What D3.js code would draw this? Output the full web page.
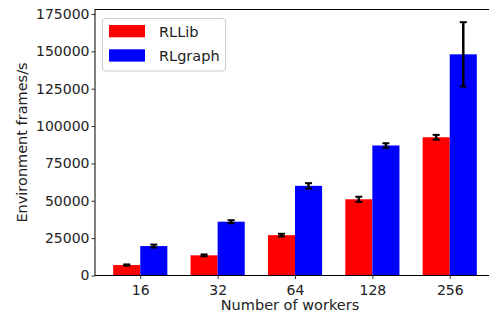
<!DOCTYPE html>
<html>
<head>
<meta charset="utf-8">
<script src="https://cdn.jsdelivr.net/npm/d3@7"></script>
<style>
  body { margin: 0; background: #fff; }
  svg text { font-family: "DejaVu Sans", sans-serif; fill: #222; }
</style>
</head>
<body>
<div id="chart"></div>
<script>
// data
var workers = ["16", "32", "64", "128", "256"];
var rllib = [7000, 13500, 27000, 51000, 92500];
var rllibErr = [400, 600, 900, 1700, 1600];
var rlgraph = [19700, 36000, 60000, 87000, 148000];
var rlgraphErr = [1000, 1000, 1800, 1500, 21500];
var yTicks = [0, 25000, 50000, 75000, 100000, 125000, 150000, 175000];

var W = 489, H = 316;
// note: "top" is taken by window.top, so use other names
var plotL = 95, plotR = 495, plotT = 9.5, plotB = 275.5;
var barW = 0.35;

var svg = d3.select("#chart").append("svg")
    .attr("width", W)
    .attr("height", H);

var x = d3.scaleLinear()
    .domain([-0.585, 4.585])
    .range([plotL, plotR]);

var y = d3.scaleLinear()
    .domain([0, 178000])
    .range([plotB, plotT]);

var series = [
  {name: "RLLib", vals: rllib, err: rllibErr, color: "#ff0000", off: -barW},
  {name: "RLgraph", vals: rlgraph, err: rlgraphErr, color: "#0000ff", off: 0}
];

// bars
series.forEach(function(s) {
  svg.append("g").selectAll("rect")
    .data(s.vals)
    .enter().append("rect")
    .attr("x", function(d, i) { return x(i + s.off); })
    .attr("width", function(d, i) { return x(i + s.off + barW) - x(i + s.off); })
    .attr("y", function(d) { return y(d); })
    .attr("height", function(d) { return y(0) - y(d); })
    .attr("fill", s.color);
});

// error bars
series.forEach(function(s) {
  var g = svg.append("g");
  s.vals.forEach(function(v, i) {
    var cx = x(i + s.off + barW / 2);
    g.append("line")
      .attr("x1", cx).attr("x2", cx)
      .attr("y1", y(v - s.err[i])).attr("y2", y(v + s.err[i]))
      .attr("stroke", "#000").attr("stroke-width", 2.5);
    [v - s.err[i], v + s.err[i]].forEach(function(e) {
      g.append("line")
        .attr("x1", cx - 3.5).attr("x2", cx + 3.5)
        .attr("y1", y(e)).attr("y2", y(e))
        .attr("stroke", "#000").attr("stroke-width", 2);
    });
  });
});

// axes
var xAxis = svg.append("g")
  .attr("transform", "translate(0," + plotB + ")")
  .call(d3.axisBottom(x).tickValues(d3.range(workers.length))
      .tickFormat(function(d) { return workers[d]; })
      .tickSize(3.5).tickSizeOuter(0));
xAxis.select(".domain").remove();
xAxis.selectAll("text").attr("font-size", 14).attr("dy", "0.95em");

var yAxis = svg.append("g")
  .attr("transform", "translate(" + plotL + ",0)")
  .call(d3.axisLeft(y).tickValues(yTicks).tickFormat(d3.format("d"))
      .tickSize(3.5).tickSizeOuter(0));
yAxis.select(".domain").remove();
yAxis.selectAll("text").attr("font-size", 14).attr("x", -5.5);
svg.selectAll(".tick line").attr("stroke", "#000").attr("stroke-width", 0.8);

// frame
svg.append("rect")
  .attr("x", plotL).attr("y", plotT)
  .attr("width", plotR - plotL).attr("height", plotB - plotT)
  .attr("fill", "none").attr("stroke", "#000").attr("stroke-width", 1);

// axis labels
svg.append("text")
  .attr("x", (plotL + plotR) / 2 - 5).attr("y", 310)
  .attr("text-anchor", "middle").attr("font-size", 14.5)
  .text("Number of workers");

svg.append("text")
  .attr("transform", "translate(27," + ((plotT + plotB) / 2) + ") rotate(-90)")
  .attr("text-anchor", "middle").attr("font-size", 14.5)
  .text("Environment frames/s");

// legend
var lg = svg.append("g");
lg.append("rect")
  .attr("x", 102.5).attr("y", 18.5).attr("width", 123).attr("height", 52.5)
  .attr("rx", 3).attr("fill", "#fff").attr("fill-opacity", 0.8)
  .attr("stroke", "#ccc").attr("stroke-width", 1);
series.forEach(function(s, i) {
  lg.append("rect")
    .attr("x", 109).attr("y", 25 + i * 24.3)
    .attr("width", 36).attr("height", 12.3)
    .attr("fill", s.color);
  lg.append("text")
    .attr("x", 159).attr("y", 31.5 + i * 24.3)
    .attr("dy", "0.35em").attr("font-size", 14.5)
    .text(s.name);
});
</script>
</body>
</html>
